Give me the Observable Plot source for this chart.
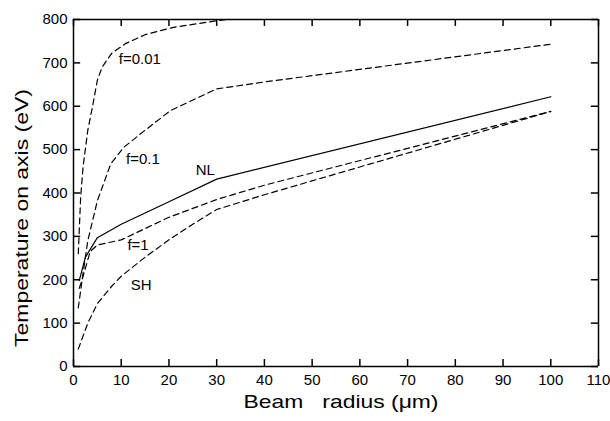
<!DOCTYPE html>
<html>
<head>
<meta charset="utf-8">
<script src="https://cdn.jsdelivr.net/npm/d3@7"></script>
<script src="https://cdn.jsdelivr.net/npm/@observablehq/plot@0.6"></script>
<style>
  html, body { margin: 0; padding: 0; background: #fff; }
  svg { display: block; }
</style>
</head>
<body>
<div id="chart"></div>
<script>
const xTicks = [0, 10, 20, 30, 40, 50, 60, 70, 80, 90, 100, 110];
const yTicks = [0, 100, 200, 300, 400, 500, 600, 700, 800];

// Beam radius (µm) / temperature on axis (eV)
const nlX = [1.2, 2.5, 5, 10, 20, 30, 100];
const nlY = [198, 252, 297, 328, 380, 432, 622];

const f1X = [1.2, 1.8, 3.5, 5, 10, 20, 30, 40, 100];
const f1Y = [180, 200, 265, 280, 292, 344, 385, 418, 588];

const shX = [1, 3, 5, 8, 10, 15, 20, 25, 30, 40, 100];
const shY = [40, 100, 145, 185, 208, 252, 292, 328, 362, 396, 588];

const f01X = [1, 2, 3, 5, 7.8, 10.5, 14, 20.3, 30, 40, 100];
const f01Y = [135, 215, 290, 382, 467, 505, 536, 590, 640, 656, 743];

const f001X = [1, 1.5, 2, 3, 4, 5, 6, 8, 11, 15, 21, 30, 32];
const f001Y = [260, 390, 460, 545, 600, 660, 690, 722, 745, 765, 782, 797, 800];

const labelText = ["f=0.01", "f=0.1", "NL", "f=1", "SH"];
const labelX = [9.5, 11, 25.6, 11.3, 12];
const labelY = [709, 478, 452, 279, 187];

const yTitle = "Temperature on axis (eV)";
const xTitle = "Beam\u00a0\u00a0 radius (\u03bcm)";

const toPts = (xs, ys) => xs.map((x, i) => ({x, y: ys[i]}));
const nl = toPts(nlX, nlY);
const f1 = toPts(f1X, f1Y);
const sh = toPts(shX, shY);
const f01 = toPts(f01X, f01Y);
const f001 = toPts(f001X, f001Y);
const labels = labelText.map((t, i) => ({t, x: labelX[i], y: labelY[i]}));

const dash = "6,4";
const lineOpts = {x: "x", y: "y", stroke: "#000", strokeWidth: 1.2, clip: true};
const xTickLen = 16;   // ~7 px in temperature units
const yTickLen = 1.5;  // ~7 px in µm
const ink = {stroke: "#000", strokeWidth: 1.5};

const chart = Plot.plot({
  width: 610,
  height: 421,
  marginLeft: 73,
  marginRight: 12,
  marginTop: 19,
  marginBottom: 55,
  style: {fontFamily: "'Liberation Sans', Arial, sans-serif", background: "#fff", color: "#000"},
  x: {domain: [0, 110]},
  y: {domain: [0, 800]},
  marks: [
    Plot.axisX({ticks: xTicks, tickSize: 0, tickPadding: 8, fontSize: 15, label: null}),
    Plot.axisY({ticks: yTicks, tickSize: 0, tickPadding: 6, fontSize: 15, label: null}),
    // box at the domain extents
    Plot.ruleX([0, 110], {x: d => d, ...ink}),
    Plot.ruleY([0, 800], {y: d => d, ...ink}),
    // inward ticks on all four sides
    Plot.ruleX(xTicks, {x: d => d, y1: () => 0, y2: () => xTickLen, ...ink}),
    Plot.ruleX(xTicks, {x: d => d, y1: () => 800 - xTickLen, y2: () => 800, ...ink}),
    Plot.ruleY(yTicks, {y: d => d, x1: () => 0, x2: () => yTickLen, ...ink}),
    Plot.ruleY(yTicks, {y: d => d, x1: () => 110 - yTickLen, x2: () => 110, ...ink}),
    Plot.line(nl, {...lineOpts}),
    Plot.line(f1, {...lineOpts, strokeDasharray: dash}),
    Plot.line(sh, {...lineOpts, strokeDasharray: dash}),
    Plot.line(f01, {...lineOpts, strokeDasharray: dash}),
    Plot.line(f001, {...lineOpts, strokeDasharray: dash}),
    Plot.text(labels, {x: "x", y: "y", text: "t", textAnchor: "start", fontSize: 15, fill: "#000"}),
    Plot.text([yTitle], {frameAnchor: "left", textAnchor: "middle", dx: -52, dy: 25, rotate: -90, fontSize: 19, fill: "#000", className: "ytitle"}),
    Plot.text([xTitle], {frameAnchor: "bottom", textAnchor: "middle", dx: 5, dy: 41, fontSize: 19, fill: "#000", className: "xtitle"})
  ]
});
// widen the titles to the reference's stretched lettering
d3.select(chart).selectAll(".ytitle text").attr("textLength", 258).attr("lengthAdjust", "spacingAndGlyphs");
d3.select(chart).selectAll(".xtitle text").attr("textLength", 195).attr("lengthAdjust", "spacingAndGlyphs");
document.getElementById("chart").appendChild(chart);
</script>
</body>
</html>
